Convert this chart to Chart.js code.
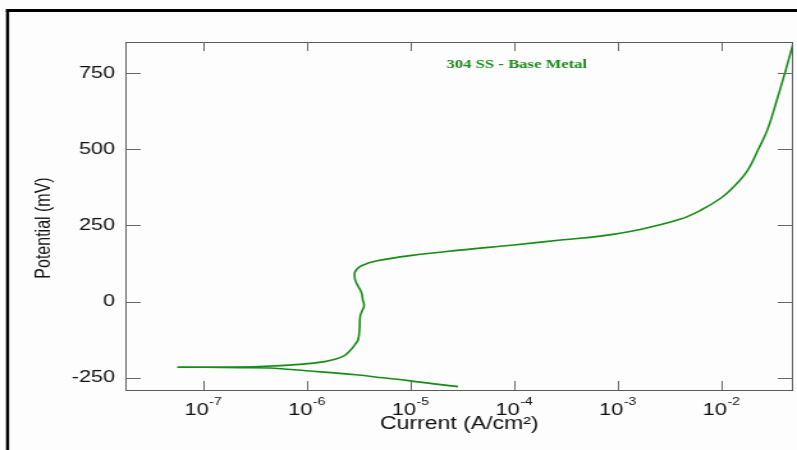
<!DOCTYPE html>
<html>
<head>
<meta charset="utf-8">
<script src="https://cdn.jsdelivr.net/npm/chart.js@4"></script>
<style>
body { margin: 0; background: #fdfdfd; overflow: hidden; }
canvas { display: block; }
</style>
</head>
<body>
<!-- drawn narrow and stretched sideways, like the scanned original -->
<canvas id="polChart" width="623" height="450" style="width:797px;height:450px"></canvas>
<script>
// one potentiodynamic sweep, starting at the cathodic end
const current = [2.9e-5, 1.7e-5, 1.0e-5, 5.5e-6, 3.0e-6, 1.0e-6, 4.4e-7, 2.4e-7, 1.0e-7, 5.8e-8,
    1.5e-7, 3.5e-7, 9.3e-7, 1.5e-6, 1.8e-6, 2.3e-6, 2.6e-6, 2.95e-6, 3.15e-6, 3.25e-6,
    3.3e-6, 3.45e-6, 3.6e-6, 3.5e-6, 3.4e-6, 3.1e-6, 2.95e-6, 2.92e-6, 3.1e-6, 3.4e-6,
    4.7e-6, 1.0e-5, 3.0e-5, 1.0e-4, 3.0e-4, 6.8e-4, 1.66e-3, 4.0e-3, 6.3e-3, 1.0e-2,
    1.32e-2, 1.8e-2, 2.29e-2, 2.79e-2, 3.48e-2, 4.16e-2, 4.95e-2];
const potential = [-279, -270, -260, -250, -240, -227, -218, -216.5, -215.5, -215,
    -214.5, -213, -205, -197, -191, -178, -163, -140, -125, -90,
    -48, -30, -13, 5, 29, 55, 72, 94, 108, 118,
    133, 151, 169, 186, 203, 215, 237, 270, 299, 340,
    376, 430, 500, 562, 664, 753, 845];
const xTicks = [1e-7, 1e-6, 1e-5, 1e-4, 1e-3, 1e-2];
const xExponents = ['-7', '-6', '-5', '-4', '-3', '-2'];
const yTicks = [-250, 0, 250, 500, 750];
const seriesLabel = '304 SS - Base Metal';

const FONT = 'Liberation Sans, Arial, sans-serif';
Chart.defaults.font.family = FONT;

const points = current.map((c, i) => ({x: c, y: potential[i]}));

const framePlugin = {
    id: 'frame',
    beforeDraw(chart) {
        const ctx = chart.ctx;
        ctx.save();
        ctx.fillStyle = '#fdfdfd';
        ctx.fillRect(0, 0, chart.width, chart.height);
        // black page border, left and top only
        ctx.fillStyle = '#000';
        ctx.fillRect(4.7, 9, 2.4, chart.height - 9);
        ctx.fillRect(4.7, 9, chart.width, 3);
        ctx.restore();
    },
    afterDraw(chart) {
        const ctx = chart.ctx;
        const a = chart.chartArea;
        const xs = chart.scales.x, ys = chart.scales.y;
        ctx.save();
        // plot box
        ctx.strokeStyle = '#5a5a5a';
        ctx.lineWidth = 1;
        ctx.strokeRect(a.left + 0.5, a.top + 0.5, a.right - a.left - 1, a.bottom - a.top);
        // inward ticks, mirrored on top and right
        ctx.strokeStyle = '#666';
        ctx.beginPath();
        xTicks.forEach(v => {
            const px = Math.round(xs.getPixelForValue(v)) + 0.5;
            ctx.moveTo(px, a.bottom); ctx.lineTo(px, a.bottom - 9);
            ctx.moveTo(px, a.top); ctx.lineTo(px, a.top + 9);
        });
        yTicks.forEach(v => {
            const py = Math.round(ys.getPixelForValue(v)) + 0.5;
            ctx.moveTo(a.left, py); ctx.lineTo(a.left + 12, py);
            ctx.moveTo(a.right, py); ctx.lineTo(a.right - 12, py);
        });
        ctx.stroke();
        // x tick labels as 10 with superscript exponent
        ctx.fillStyle = '#111';
        ctx.textBaseline = 'alphabetic';
        ctx.textAlign = 'left';
        xTicks.forEach((v, i) => {
            const px = xs.getPixelForValue(v);
            ctx.font = '17px ' + FONT;
            const wBase = ctx.measureText('10').width;
            ctx.font = '11px ' + FONT;
            const wExp = ctx.measureText(xExponents[i]).width;
            const x0 = px - (wBase + wExp) / 2;
            ctx.font = '17px ' + FONT;
            ctx.fillText('10', x0, 415);
            ctx.font = '11px ' + FONT;
            ctx.fillText(xExponents[i], x0 + wBase + 0.5, 405);
        });
        // axis titles
        ctx.textAlign = 'center';
        ctx.font = '18px ' + FONT;
        ctx.fillText('Current (A/cm\u00B2)', (a.left + a.right) / 2, 429);
        ctx.save();
        ctx.translate(35, 228);
        ctx.rotate(-Math.PI / 2);
        ctx.textBaseline = 'middle';
        ctx.font = '16px ' + FONT;
        ctx.fillText('Potential (mV)', 0, 0);
        ctx.restore();
        // series note
        ctx.fillStyle = '#1a8c1a';
        ctx.textBaseline = 'middle';
        ctx.font = 'bold 13px Liberation Serif, Times New Roman, serif';
        ctx.fillText(seriesLabel, 404, 65);
        ctx.restore();
    }
};

const polChart = new Chart(document.getElementById('polChart').getContext('2d'), {
    type: 'scatter',
    data: {
        datasets: [{
            label: seriesLabel,
            data: points,
            showLine: true,
            borderColor: '#168c16',
            borderWidth: 1.6,
            pointRadius: 0,
            tension: 0.4,
            fill: false
        }]
    },
    options: {
        responsive: false,
        devicePixelRatio: 1,
        animation: false,
        layout: { padding: { top: 42, right: 3, left: 0, bottom: 0 } },
        plugins: {
            legend: { display: false },
            tooltip: { enabled: false }
        },
        scales: {
            x: {
                type: 'logarithmic',
                min: 1.79e-8,
                max: 0.0497,
                afterBuildTicks: s => { s.ticks = xTicks.map(v => ({value: v})); },
                afterFit: s => { s.height = 60; },
                grid: { display: false },
                border: { display: false },
                ticks: { display: false }
            },
            y: {
                min: -290,
                max: 852,
                afterBuildTicks: s => { s.ticks = yTicks.map(v => ({value: v})); },
                afterFit: s => { s.width = 98; },
                grid: { display: false, drawTicks: false },
                border: { display: false },
                ticks: { color: '#111', font: { size: 17 }, padding: 8 }
            }
        }
    },
    plugins: [framePlugin]
});
</script>
</body>
</html>
